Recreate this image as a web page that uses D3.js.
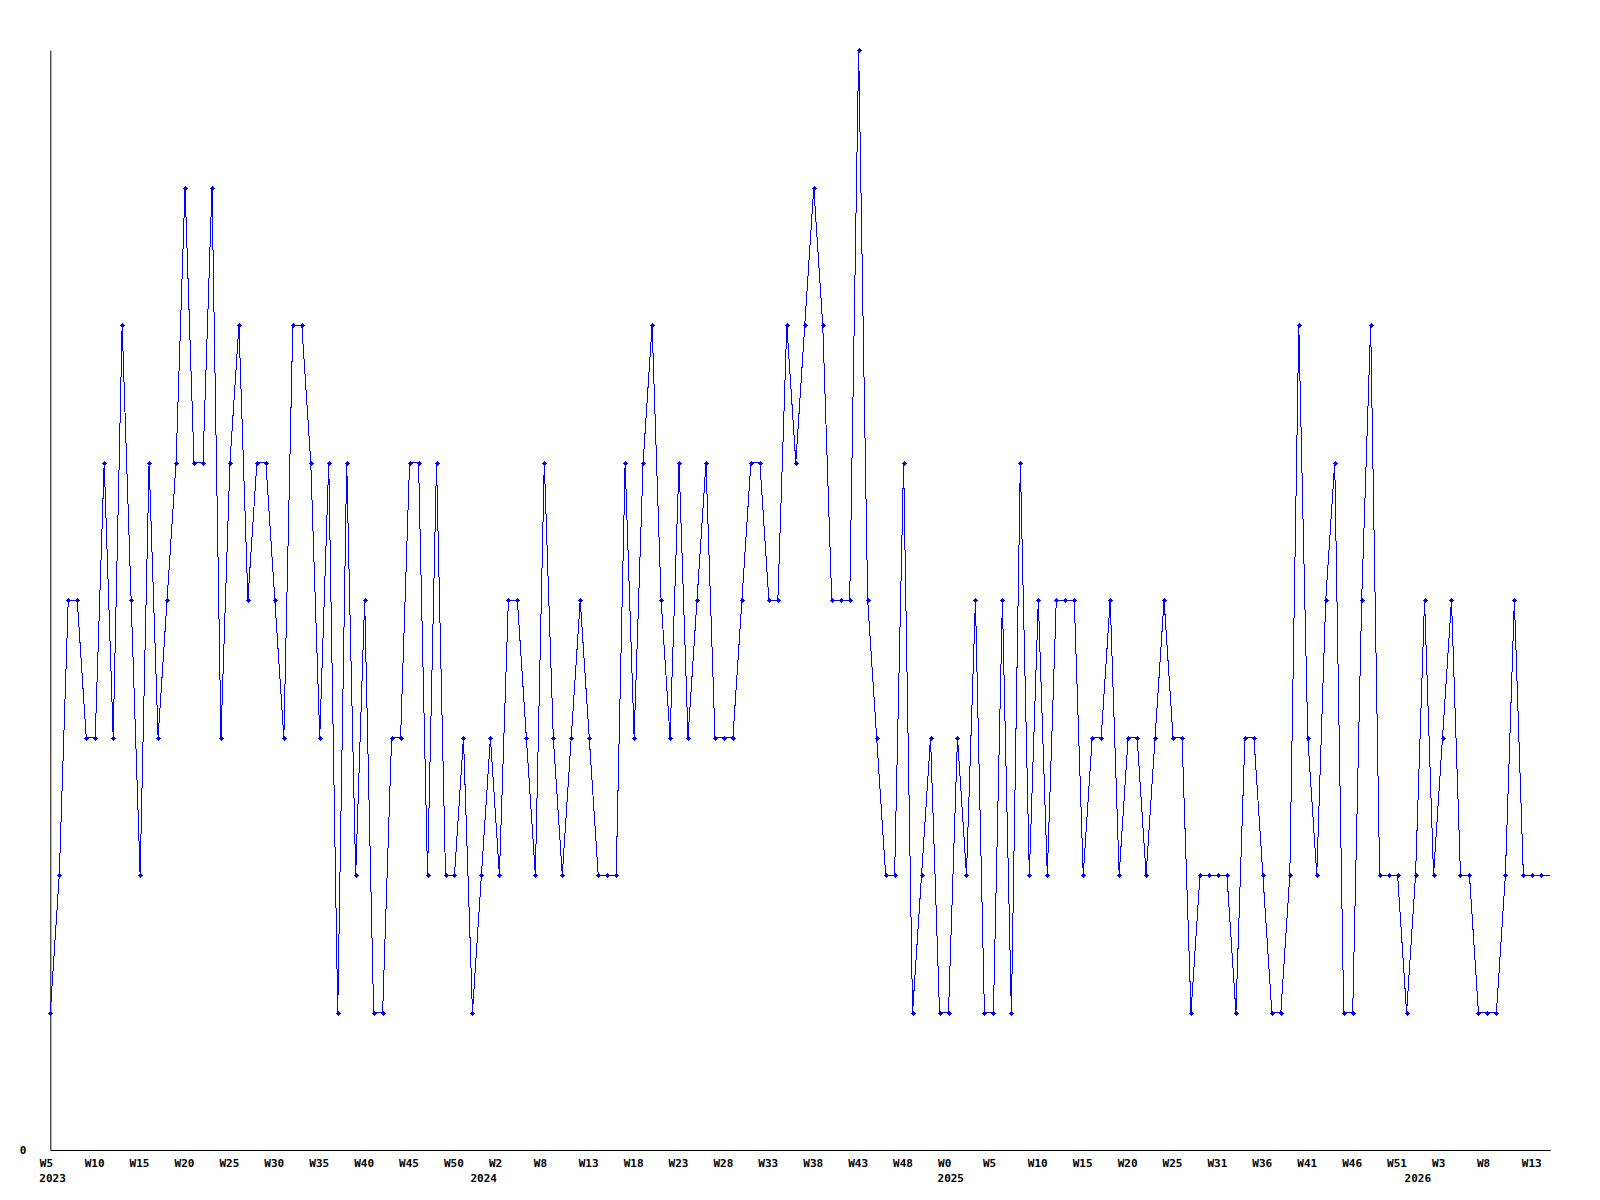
<!DOCTYPE html>
<html>
<head>
<meta charset="utf-8">
<script src="https://cdn.jsdelivr.net/npm/d3@7"></script>
<style>
  body { margin: 0; background: #fff; }
  .axis text { font-family: "DejaVu Sans Mono", monospace; font-weight: bold; font-size: 11px; fill: #000; }
  .axis path { stroke: #000; }
</style>
</head>
<body>
<div id="weeklyChart"></div>
<script>
// weekly counts, 2023 W5 .. 2026 W14 (last week is still open, no marker)
const counts = [
    1, 2, 4, 4, 3, 3, 5, 3, 6, 4, 2, 5, 3, 4, 5, 7, 5, 5, 7, 3,
    5, 6, 4, 5, 5, 4, 3, 6, 6, 5, 3, 5, 1, 5, 2, 4, 1, 1, 3, 3,
    5, 5, 2, 5, 2, 2, 3, 1, 2, 3, 2, 4, 4, 3, 2, 5, 3, 2, 3, 4,
    3, 2, 2, 2, 5, 3, 5, 6, 4, 3, 5, 3, 4, 5, 3, 3, 3, 4, 5, 5,
    4, 4, 6, 5, 6, 7, 6, 4, 4, 4, 8, 4, 3, 2, 2, 5, 1, 2, 3, 1,
    1, 3, 2, 4, 1, 1, 4, 1, 5, 2, 4, 2, 4, 4, 4, 2, 3, 3, 4, 2,
    3, 3, 2, 3, 4, 3, 3, 1, 2, 2, 2, 2, 1, 3, 3, 2, 1, 1, 2, 6,
    3, 2, 4, 5, 1, 1, 4, 6, 2, 2, 2, 1, 2, 4, 2, 3, 4, 2, 2, 1,
    1, 1, 2, 4, 2, 2, 2, 2
];

// week tick labels, one every 5 points
const weekTickIndex = d3.range(0, 166, 5);
const weekTickLabels = [
    "W5", "W10", "W15", "W20", "W25", "W30", "W35", "W40", "W45", "W50",
    "W2", "W8", "W13", "W18", "W23", "W28", "W33", "W38", "W43", "W48",
    "W0", "W5", "W10", "W15", "W20", "W25", "W31", "W36", "W41", "W46",
    "W51", "W3", "W8", "W13"
];

// year labels and the point where each year starts
const yearIndex = [0, 48, 100, 152];
const yearLabels = ["2023", "2024", "2025", "2026"];

const yTicks = [0];

// set the dimensions and margins of the graph
const margin = { top: 50, right: 49.7, bottom: 50, left: 50.3 },
    width = 1600 - margin.left - margin.right,
    height = 1200 - margin.top - margin.bottom;

// set the ranges
const x = d3.scaleLinear().domain([0, counts.length - 1]).range([0, width]);
const y = d3.scaleLinear().domain([0, 8]).range([height, 0]);

const svg = d3.select("#weeklyChart").append("svg")
    .attr("width", 1600)
    .attr("height", 1200)
    .append("g")
    .attr("transform", "translate(" + margin.left + "," + margin.top + ")");

// X axis, labels sit left-aligned just before the tick
const xAxis = svg.append("g")
    .attr("class", "axis")
    .attr("transform", "translate(0," + height + ")")
    .call(d3.axisBottom(x)
        .tickValues(weekTickIndex)
        .tickFormat((d, i) => weekTickLabels[i])
        .tickSize(0)
        .tickSizeOuter(0));
xAxis.selectAll("text")
    .attr("text-anchor", "start")
    .attr("x", -11)
    .attr("y", 17)
    .attr("dy", null);

xAxis.selectAll(".year")
    .data(yearLabels)
    .enter().append("text")
    .attr("class", "year")
    .attr("text-anchor", "start")
    .attr("x", (d, i) => x(yearIndex[i]) - 11)
    .attr("y", 32)
    .text(d => d);

// Y axis, only the zero label
svg.append("g")
    .attr("class", "axis")
    .call(d3.axisLeft(y)
        .tickValues(yTicks)
        .tickSize(0)
        .tickSizeOuter(0)
        .tickPadding(24));

// the line
const line = d3.line()
    .x((d, i) => x(i))
    .y(d => y(d));

svg.append("path")
    .datum(counts)
    .attr("fill", "none")
    .attr("stroke", "#0000ff")
    .attr("stroke-width", 1)
    .attr("shape-rendering", "crispEdges")
    .attr("d", line);

// the points (small crosses), skip the open week
const cross = "M-2.5,-0.5h5v1h-5z M-0.5,-2.5h1v5h-1z M-1.5,-1.5h3v3h-3z";
svg.selectAll(".dot")
    .data(counts.slice(0, -1))
    .enter().append("path")
    .attr("class", "dot")
    .attr("fill", "#0000ff")
    .attr("shape-rendering", "crispEdges")
    .attr("transform", (d, i) => "translate(" + (Math.round(x(i) + margin.left) - margin.left + 0.5) + "," + (Math.round(y(d) + margin.top) - margin.top + 0.5) + ")")
    .attr("d", cross);
</script>
</body>
</html>
